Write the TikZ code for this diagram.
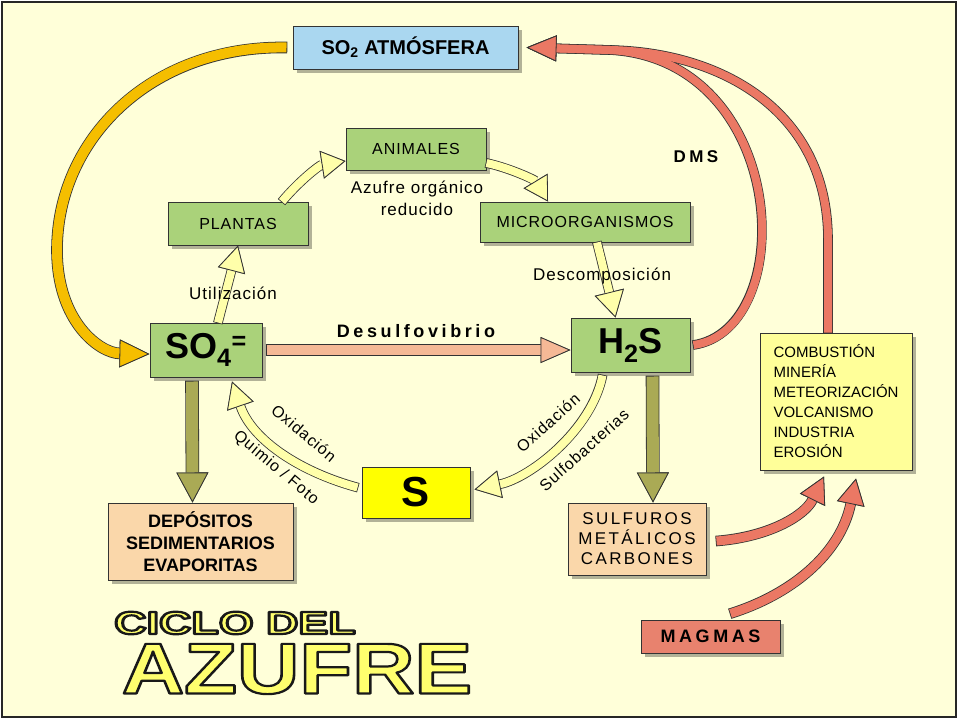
\documentclass[tikz,border=0pt]{standalone}
\usepackage{fontspec}
\setmainfont{Liberation Sans}
\newfontfamily\espfont[LetterSpace=6]{Liberation Sans}
\newfontfamily\anchofont[LetterSpace=20]{Liberation Sans}
\usetikzlibrary{arrows.meta,shadows}
\definecolor{fondo}{RGB}{255,255,217}
\definecolor{verdecaja}{RGB}{170,210,122}
\definecolor{azulcaja}{RGB}{170,215,240}
\definecolor{marroncaja}{RGB}{250,215,170}
\definecolor{amarillo}{RGB}{255,255,0}
\definecolor{amarillocaja}{RGB}{255,255,153}
\definecolor{rojocaja}{RGB}{232,130,110}
\definecolor{rojo}{RGB}{235,120,100}
\definecolor{naranja}{RGB}{245,190,0}
\definecolor{amarillocl}{RGB}{255,255,170}
\definecolor{amarillotit}{RGB}{255,255,110}
\definecolor{oliva}{RGB}{170,170,85}
\definecolor{salmon}{RGB}{245,185,150}
% outline pass and fill pass of a block arrow
\newcommand{\fborde}[3]{\draw[line width=#1+1.6, black!80, -{Triangle[#2, line width=0pt]}, shorten <=-0.8pt] #3;}
\newcommand{\frelleno}[4]{\draw[line width=#2, #1, -{Triangle[#3, color=black!80, fill=#1, line width=0.8pt]}] #4;}
\newcommand{\flecha}[4]{\fborde{#2}{#3}{#4}\frelleno{#1}{#2}{#3}{#4}}
% filled and stroked letters for the title
\newcommand{\contorno}[1]{\special{pdf:literal direct 2 Tr 2.2 w 1 j 0.1 0.1 0.1 RG}#1\special{pdf:literal direct 0 Tr}}

\begin{document}
\begin{tikzpicture}[x=1pt,y=-1pt, % pixel grid, 960 x 720
   caja/.style={draw=black!80, line width=1pt, inner sep=0pt, align=center,
      drop shadow={shadow xshift=4pt, shadow yshift=-4pt, opacity=0.3, fill=black}},
   verde/.style={caja, fill=verdecaja, font=\espfont\fontsize{16}{19}\selectfont},
   grande/.style={caja, fill=verdecaja, font=\bfseries\fontsize{36}{40}\selectfont},
   marron/.style={caja, fill=marroncaja},
   rotulo/.style={font=\espfont\fontsize{17}{22}\selectfont, inner sep=0pt, align=center},
   giro/.style={font=\espfont\fontsize{16}{18}\selectfont, inner sep=0pt, rotate=#1},
   titulo/.style={font=\bfseries\fontsize{#1}{#1}\selectfont, inner sep=0pt}]
   \useasboundingbox (0,0) rectangle (960,720);
   \fill[white] (0,0) rectangle (960,720);
   \filldraw[fill=fondo, draw=black!85, line width=2.5] (2,2) rectangle (956,717);

   \node[caja, fill=azulcaja, minimum width=225, minimum height=43,
         font=\bfseries\fontsize{20}{24}\selectfont] (atm) at (405.5,47.5) {SO\textsubscript{2} ATMÓSFERA};
   \node[verde, minimum width=140, minimum height=42] (animales) at (416,149) {ANIMALES};
   \node[verde, minimum width=140, minimum height=43] (plantas) at (238,223.5) {PLANTAS};
   \node[verde, minimum width=210, minimum height=40] (micro) at (585,222) {MICROORGANISMOS};
   \node[grande, minimum width=112, minimum height=54] (so4) at (206,350) {SO\textsubscript{4}\textsuperscript{=}};
   \node[grande, minimum width=119, minimum height=54] (h2s) at (630.5,345) {H\textsubscript{2}S};
   \node[caja, fill=amarillo, minimum width=108, minimum height=51,
         font=\bfseries\fontsize{42}{44}\selectfont] (azufre) at (416,492.5) {S};
   \node[marron, minimum width=185, minimum height=77, font=\bfseries\fontsize{18}{22}\selectfont]
         (depositos) at (200.5,541.5) {DEPÓSITOS\\SEDIMENTARIOS\\EVAPORITAS};
   \node[marron, minimum width=138, minimum height=72,
         font=\addfontfeature{LetterSpace=14}\fontsize{17}{20}\selectfont]
         (sulfuros) at (637,539) {SULFUROS\\METÁLICOS\\CARBONES};
   \node[caja, fill=amarillocaja, minimum width=152, minimum height=137, align=left,
         font=\fontsize{15}{20}\selectfont] (fuentes) at (836,401.5)
         {COMBUSTIÓN\\MINERÍA\\METEORIZACIÓN\\VOLCANISMO\\INDUSTRIA\\EROSIÓN};
   \node[caja, fill=rojocaja, minimum width=139, minimum height=33,
         font=\anchofont\bfseries\fontsize{18}{20}\selectfont] (magmas) at (710.5,636.5) {MAGMAS};

   % SO2 -> SO4
   \flecha{naranja}{10}{length=30pt,width=28pt}{([xshift=-6pt]atm.west) .. controls (150,45) and (57,140) ..
      (57,250) .. controls (57,322) and (100,353) .. ([yshift=-4pt]so4.west)}
   % ciclo organico
   \flecha{amarillocl}{8}{length=24pt,width=28pt}{([xshift=44pt]plantas.north) .. controls (300,180) and (320,165) ..
      ([yshift=-12pt]animales.west)}
   \flecha{amarillocl}{8}{length=24pt,width=28pt}{([yshift=-14pt]animales.east) .. controls (510,168) and (535,180) ..
      ([xshift=-37pt]micro.north)}
   \flecha{amarillocl}{8}{length=26pt,width=28pt}{([xshift=12pt]so4.north) -- (plantas.south)}
   \flecha{amarillocl}{8}{length=26pt,width=30pt}{([xshift=12pt]micro.south) -- ([xshift=-15pt]h2s.north)}
   \flecha{salmon}{10}{length=30pt,width=26pt}{([xshift=4pt]so4.east) -- (so4.east -| h2s.west)}
   % oxidaciones
   \flecha{amarillocl}{8}{length=26pt,width=28pt}{([xshift=-4pt,yshift=5pt]azufre.west) .. controls (300,472) and (252,440) ..
      ([xshift=26pt,yshift=-4pt]so4.south)}
   \flecha{amarillocl}{8}{length=26pt,width=28pt}{([xshift=-28pt,yshift=-3pt]h2s.south) .. controls (592,430) and (530,478) ..
      ([xshift=4pt,yshift=3pt]azufre.east)}
   % sedimentos
   \flecha{oliva}{12}{length=30pt,width=32pt}{([xshift=-14pt,yshift=-4pt]so4.south) -- ([xshift=-8pt]depositos.north)}
   \flecha{oliva}{12}{length=30pt,width=32pt}{([xshift=22pt,yshift=-4pt]h2s.south) -- ([xshift=16pt]sulfuros.north)}
   % vuelta a la atmosfera
   \coordinate (union) at (610,50);
   \fborde{8}{length=30pt,width=26pt}{([xshift=3pt]h2s.east) .. controls (800,330) and (790,60) .. (union) -- ([xshift=8pt]atm.east)}
   \fborde{8}{length=30pt,width=26pt}{([xshift=-8pt]fuentes.north) -- (828,240) .. controls (828,110) and (720,52) .. (union) -- ([xshift=8pt]atm.east)}
   \frelleno{rojo}{8}{length=30pt,width=26pt}{([xshift=3pt]h2s.east) .. controls (800,330) and (790,60) .. (union) -- ([xshift=8pt]atm.east)}
   \frelleno{rojo}{8}{length=30pt,width=26pt}{([xshift=-8pt]fuentes.north) -- (828,240) .. controls (828,110) and (720,52) .. (union) -- ([xshift=8pt]atm.east)}
   \flecha{rojo}{9}{length=26pt,width=28pt}{([xshift=10pt,yshift=-2pt]sulfuros.east) .. controls (770,537) and (805,515) ..
      ([xshift=-12pt,yshift=-6pt]fuentes.south)}
   \flecha{rojo}{9}{length=26pt,width=28pt}{([xshift=20pt,yshift=6pt]magmas.north) .. controls (790,595) and (840,555) ..
      ([xshift=20pt,yshift=-8pt]fuentes.south)}

   \node[rotulo] (azorg) at (417,198) {Azufre orgánico\\reducido};
   \node[rotulo] (util) at (233,293) {Utilización};
   \node[rotulo] (descomp) at (602,276) {Descomposición};
   \node[font=\anchofont\bfseries\fontsize{18}{20}\selectfont, inner sep=0pt] (desulfo) at (416,331) {Desulfovibrio};
   \node[font=\anchofont\bfseries\fontsize{17}{20}\selectfont, inner sep=0pt] (dms) at (696,157) {DMS};
   \node[giro=-40] (oxi1) at (304,433) {Oxidación};
   \node[giro=-40] (quimio) at (276,468) {Quimio / Foto};
   \node[giro=42] (oxi2) at (548,423) {Oxidación};
   \node[giro=42] (sulfob) at (584,450) {Sulfobacterias};

   % titulo
   \node[titulo=32, text=amarillotit] (ciclo) at (235,623) {\scalebox{1.4}[1]{\contorno{CICLO DEL}}};
   \node[titulo=72, text=amarillotit] (azufretit) at (297,669) {\scalebox{1.2}[1]{\contorno{AZUFRE}}};
\end{tikzpicture}
\end{document}
